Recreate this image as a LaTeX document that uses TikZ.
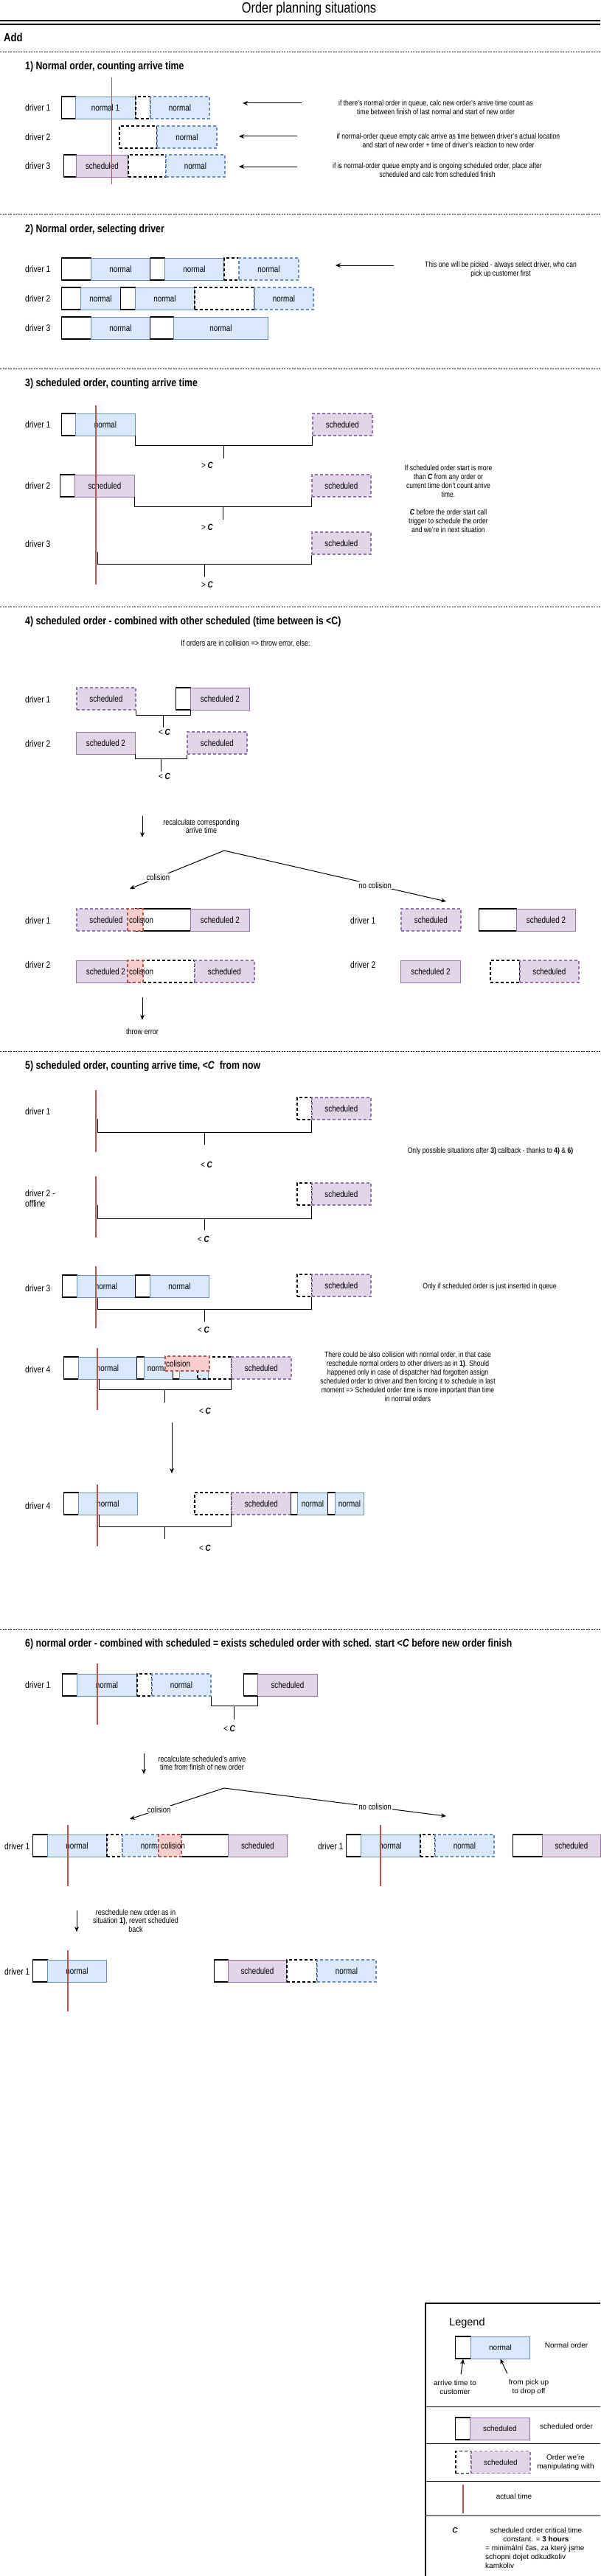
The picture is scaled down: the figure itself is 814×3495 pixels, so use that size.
\documentclass[tikz,border=0pt]{standalone}
\usepackage{fontspec}
\setmainfont{Liberation Sans}[FakeStretch=0.82]
\newfontfamily\legendfont{Liberation Sans}
\usetikzlibrary{arrows.meta}
\usetikzlibrary{positioning}
\definecolor{nfill}{HTML}{DAE8FC}
\definecolor{nline}{HTML}{6C8EBF}
\definecolor{sfill}{HTML}{E1D5E7}
\definecolor{sline}{HTML}{9673A6}
\definecolor{cfill}{HTML}{F8CECC}
\definecolor{cline}{HTML}{B85450}
\definecolor{nowred}{HTML}{B85450}
\tikzset{box/.style = {anchor = west, inner sep = 0, minimum height = 30pt, font = \fontsize{12}{14}\selectfont}}
\tikzset{wbox/.style = {box, draw, fill = white, line width = 1.3pt}}
\tikzset{nbox/.style = {box, draw = nline, fill = nfill, line width = 0.9pt}}
\tikzset{sbox/.style = {box, draw = sline, fill = sfill, line width = 0.9pt}}
\tikzset{gbox/.style = {box, draw, line width = 1.8pt, dash pattern = on 4pt off 3pt}}
\tikzset{nnew/.style = {nbox, line width = 1.8pt, dash pattern = on 4pt off 3pt}}
\tikzset{snew/.style = {sbox, line width = 1.8pt, dash pattern = on 4pt off 3pt}}
\tikzset{cbox/.style = {box, draw = cline, fill = cfill, line width = 1.8pt, dash pattern = on 4pt off 3pt}}
\tikzset{ctext/.style = {anchor = west, inner sep = 0, font = \fontsize{12}{14}\selectfont}}
\tikzset{drv/.style = {anchor = west, align = left, inner sep = 0, font = \fontsize{12.5}{14}\selectfont}}
\tikzset{head/.style = {anchor = west, inner sep = 0, font = \fontsize{15}{18}\selectfont\bfseries}}
\tikzset{note/.style = {align = center, inner sep = 0, font = \fontsize{10.5}{12}\selectfont}}
\tikzset{small/.style = {align = center, inner sep = 0, font = \fontsize{11}{11.7}\selectfont}}
\tikzset{lab/.style = {fill = white, inner sep = 1pt, font = \fontsize{11.5}{13}\selectfont}}
\tikzset{cmark/.style = {inner sep = 0, font = \fontsize{12}{14}\selectfont}}
\tikzset{now/.style = {draw = nowred, line width = 1.2pt}}
\tikzset{brk/.style = {draw, line width = 1pt}}
\tikzset{sep/.style = {draw, line width = 0.8pt, dash pattern = on 2pt off 1.5pt}}
\tikzset{arr/.style = {-{Stealth[length = 7pt, width = 6pt]}, line width = 1pt}}
\tikzset{lg/.style = {align = center, inner sep = 0, font = \legendfont\fontsize{10}{11.7}\selectfont}}
\tikzset{lbox/.style = {font = \legendfont\fontsize{10}{12}\selectfont}}

\begin{document}
\begin{tikzpicture}[x = 1pt, y = -1pt]
    \useasboundingbox (0, 0) rectangle (814, 3495);
    \node [inner sep = 0, font = \fontsize{20}{24}\selectfont] (title) at (419, 12) {Order planning situations};
    \draw [line width = 1.8pt] (0, 28) -- (814, 28);
    \draw [line width = 1.8pt] (0, 33) -- (814, 33);
    \node [head, font = \fontsize{16}{19}\selectfont\bfseries] (add) at (5, 51) {Add};
    \draw [sep] (0, 70) -- (814, 70);

    \node [head] (h1) at (34, 91) {1) Normal order, counting arrive time};
    \node [drv] (d11) at (34, 146) {driver 1};
    \node [drv] (d12) at (34, 186) {driver 2};
    \node [drv] (d13) at (34, 225) {driver 3};
    \node [wbox, minimum width = 19pt] (a1) at (83, 146) {};
    \node [nbox, minimum width = 81pt] (a2) at (102, 146) {normal 1};
    \node [gbox, minimum width = 20pt] (a3) at (183, 146) {};
    \node [nnew, minimum width = 80pt] (a4) at (203, 146) {normal};
    \node [gbox, minimum width = 51pt] (a5) at (161, 186) {};
    \node [nnew, minimum width = 81pt] (a6) at (212, 186) {normal};
    \node [wbox, minimum width = 17pt] (a7) at (86, 225) {};
    \node [sbox, minimum width = 70pt] (a8) at (103, 225) {scheduled};
    \node [gbox, minimum width = 51pt] (a9) at (173, 225) {};
    \node [nnew, minimum width = 80pt] (a10) at (224, 225) {normal};
    \draw [now] (151.5, 105) -- (151.5, 250);
    \node [note] (t11) at (591, 146) {if there's normal order in queue, calc new order's arrive time count as\\time between finish of last normal and start of new order};
    \node [note] (t12) at (608, 191) {if normal-order queue empty calc arrive as time between driver's actual location\\and start of new order + time of driver's reaction to new order};
    \node [note] (t13) at (593, 231) {if is normal-order queue empty and is ongoing scheduled order, place after\\scheduled and calc from scheduled finish};
    \coordinate (s11) at (409, 140);
    \coordinate (e11) at (329, 140);
    \coordinate (s12) at (403, 185);
    \coordinate (e12) at (324, 185);
    \coordinate (s13) at (403, 226);
    \coordinate (e13) at (324, 226);
    \draw [arr] (s11) -- (e11);
    \draw [arr] (s12) -- (e12);
    \draw [arr] (s13) -- (e13);

    \draw [sep] (0, 290) -- (814, 290);
    \node [head] (h2) at (34, 312) {2) Normal order, selecting driver};
    \node [drv] (d21) at (34, 365) {driver 1};
    \node [drv] (d22) at (34, 405) {driver 2};
    \node [drv] (d23) at (34, 445) {driver 3};
    \node [wbox, minimum width = 40pt] (b1) at (83, 365) {};
    \node [nbox, minimum width = 80pt] (b2) at (123, 365) {normal};
    \node [wbox, minimum width = 20pt] (b3) at (203, 365) {};
    \node [nbox, minimum width = 80pt] (b4) at (223, 365) {normal};
    \node [gbox, minimum width = 20pt] (b5) at (303, 365) {};
    \node [nnew, minimum width = 81pt] (b6) at (323, 365) {normal};
    \node [wbox, minimum width = 26pt] (b7) at (83, 405) {};
    \node [nbox, minimum width = 54pt] (b8) at (109, 405) {normal};
    \node [wbox, minimum width = 20pt] (b9) at (163, 405) {};
    \node [nbox, minimum width = 80pt] (b10) at (183, 405) {normal};
    \node [gbox, minimum width = 81pt] (b11) at (263, 405) {};
    \node [nnew, minimum width = 80pt] (b12) at (344, 405) {normal};
    \node [wbox, minimum width = 40pt] (b13) at (83, 445) {};
    \node [nbox, minimum width = 80pt] (b14) at (123, 445) {normal};
    \node [wbox, minimum width = 32pt] (b15) at (203, 445) {};
    \node [nbox, minimum width = 128pt] (b16) at (235, 445) {normal};
    \node [note] (t21) at (679, 366) {This one will be picked - always select driver, who can\\pick up customer first};
    \coordinate (s21) at (534, 360);
    \coordinate (e21) at (455, 360);
    \draw [arr] (s21) -- (e21);

    \draw [sep] (0, 500) -- (814, 500);
    \node [head] (h3) at (34, 521) {3) scheduled order, counting arrive time};
    \node [drv] (d31) at (34, 576) {driver 1};
    \node [drv] (d32) at (34, 659) {driver 2};
    \node [drv] (d33) at (34, 738) {driver 3};
    \node [wbox, minimum width = 19pt] (c1) at (83, 576) {};
    \node [nbox, minimum width = 81pt] (c2) at (102, 576) {normal};
    \node [snew, minimum width = 81pt] (c3) at (423, 576) {scheduled};
    \node [wbox, minimum width = 20pt] (c4) at (81, 659) {};
    \node [sbox, minimum width = 81pt] (c5) at (101, 659) {scheduled};
    \node [snew, minimum width = 80pt] (c6) at (422, 659) {scheduled};
    \node [snew, minimum width = 80pt] (c7) at (422, 737) {scheduled};
    \draw [now] (130, 550) -- (130, 793);
    \draw [brk] (c2.south east) -- ++(0, 13) -| coordinate [pos = 0.25] (m31) (c3.south west);
    \draw [brk] (m31) -- ++(0, 18);
    \node [cmark] (k31) at (281, 631) {> \textbf{\textit{C}}};
    \draw [brk] (c5.south east) -- ++(0, 13) -| coordinate [pos = 0.25] (m32) (c6.south west);
    \draw [brk] (m32) -- ++(0, 18);
    \node [cmark] (k32) at (281, 715) {> \textbf{\textit{C}}};
    \coordinate (r33) at (132, 749);
    \draw [brk] (r33) -- ++(0, 16) -| coordinate [pos = 0.25] (m33) (c7.south west);
    \draw [brk] (m33) -- ++(0, 18);
    \node [cmark] (k33) at (281, 793) {> \textbf{\textit{C}}};
    \node [note] (t31) at (608, 677) {If scheduled order start is more\\than \textbf{\textit{C}} from any order or\\current time don't count arrive\\time.\\[12pt]\textbf{\textit{C}} before the order start call\\trigger to schedule the order\\and we're in next situation};

    \draw [sep] (0, 823) -- (814, 823);
    \node [head] (h4) at (34, 844) {4) scheduled order - combined with other scheduled (time between is <C)};
    \node [small] (t41) at (333, 873) {If orders are in collision => throw error, else:};
    \node [drv] (d41) at (34, 949) {driver 1};
    \node [drv] (d42) at (34, 1009) {driver 2};
    \node [snew, minimum width = 80pt] (e1) at (103, 948) {scheduled};
    \node [wbox, minimum width = 20pt] (e2) at (238, 948) {};
    \node [sbox, minimum width = 80pt] (e3) at (258, 948) {scheduled 2};
    \node [sbox, minimum width = 80pt] (e4) at (103, 1008) {scheduled 2};
    \node [snew, minimum width = 81pt] (e5) at (253, 1008) {scheduled};
    \draw [brk] (e1.south east) -- ++(0, 7) -| coordinate [pos = 0.25] (m41) (e3.south west);
    \draw [brk] (m41) -- ++(0, 16);
    \node [cmark] (k41) at (223, 993) {< \textbf{\textit{C}}};
    \draw [brk] (e4.south east) -- ++(0, 6) -| coordinate [pos = 0.25] (m42) (e5.south west);
    \draw [brk] (m42) -- ++(0, 18);
    \node [cmark] (k42) at (223, 1053) {< \textbf{\textit{C}}};
    \node [small] (t42) at (273, 1121) {recalculate corresponding\\arrive time};
    \coordinate (r4a) at (193, 1107);
    \coordinate (r4b) at (193, 1136);
    \draw [arr] (r4a) -- (r4b);
    \coordinate (sp4) at (304, 1154);
    \coordinate (sl4) at (176, 1206);
    \coordinate (sr4) at (605, 1223);
    \draw [arr] (sp4) -- node [lab, pos = 0.7] (l41) {colision} (sl4);
    \draw [arr] (sp4) -- node [lab, pos = 0.68] (l42) {no colision} (sr4);
    \node [drv] (d43) at (34, 1249) {driver 1};
    \node [drv] (d44) at (34, 1309) {driver 2};
    \node [snew, minimum width = 80pt] (f1) at (103, 1248) {scheduled};
    \node [wbox, minimum width = 75pt] (f2) at (183, 1248) {};
    \node [sbox, minimum width = 80pt] (f3) at (258, 1248) {scheduled 2};
    \node [cbox, minimum width = 21pt] (f4) at (172, 1248) {};
    \node [ctext] (f4t) at (175, 1248) {colision};
    \node [sbox, minimum width = 80pt] (f5) at (103, 1318) {scheduled 2};
    \node [gbox, minimum width = 70pt] (f6) at (193, 1318) {};
    \node [snew, minimum width = 81pt] (f7) at (263, 1318) {scheduled};
    \node [cbox, minimum width = 21pt] (f8) at (172, 1318) {};
    \node [ctext] (f8t) at (175, 1318) {colision};
    \node [small] (err) at (193, 1400) {throw error};
    \coordinate (r4c) at (193, 1353);
    \draw [arr] (r4c) -- ([yshift = 12pt]err.north);
    \node [drv] (d45) at (475, 1249) {driver 1};
    \node [drv] (d46) at (475, 1309) {driver 2};
    \node [snew, minimum width = 81pt] (g1) at (543, 1248) {scheduled};
    \node [wbox, minimum width = 51pt] (g2) at (649, 1248) {};
    \node [sbox, minimum width = 80pt] (g3) at (700, 1248) {scheduled 2};
    \node [sbox, minimum width = 81pt] (g4) at (543, 1318) {scheduled 2};
    \node [gbox, minimum width = 40pt] (g5) at (664, 1318) {};
    \node [snew, minimum width = 80pt] (g6) at (704, 1318) {scheduled};

    \draw [sep] (0, 1426) -- (814, 1426);
    \node [head] (h5) at (34, 1447) {5) scheduled order, counting arrive time, <\textit{C}\ \ from now};
    \node [drv] (d51) at (34, 1508) {driver 1};
    \node [gbox, minimum width = 20pt] (p1) at (402, 1504) {};
    \node [snew, minimum width = 80pt] (p2) at (422, 1504) {scheduled};
    \draw [now] (130, 1479) -- (130, 1563);
    \coordinate (r51) at (132, 1518);
    \draw [brk] (r51) -- ++(0, 18) -| coordinate [pos = 0.25] (m51) (p2.south west);
    \draw [brk] (m51) -- ++(0, 17);
    \node [cmark] (k51) at (280, 1580) {< \textbf{\textit{C}}};
    \node [note] (t51) at (665, 1562) {Only possible situations after \textbf{3)} callback - thanks to \textbf{4)} \& \textbf{6)}};
    \node [drv] (d52) at (34, 1626) {driver 2 -\\offline};
    \node [gbox, minimum width = 20pt] (p3) at (402, 1620) {};
    \node [snew, minimum width = 80pt] (p4) at (422, 1620) {scheduled};
    \draw [now] (130, 1596) -- (130, 1679);
    \coordinate (r52) at (132, 1635);
    \draw [brk] (r52) -- ++(0, 18) -| coordinate [pos = 0.25] (m52) (p4.south west);
    \draw [brk] (m52) -- ++(0, 16);
    \node [cmark] (k52) at (276, 1681) {< \textbf{\textit{C}}};
    \node [drv] (d53) at (34, 1748) {driver 3};
    \node [wbox, minimum width = 20pt] (p5) at (84, 1745) {};
    \node [nbox, minimum width = 79pt] (p6) at (104, 1745) {normal};
    \node [wbox, minimum width = 20pt] (p7) at (183, 1745) {};
    \node [nbox, minimum width = 80pt] (p8) at (203, 1745) {normal};
    \node [gbox, minimum width = 20pt] (p9) at (402, 1744) {};
    \node [snew, minimum width = 80pt] (p10) at (422, 1744) {scheduled};
    \draw [now] (130, 1718) -- (130, 1802);
    \coordinate (r53) at (132, 1761);
    \draw [brk] (r53) -- ++(0, 15) -| coordinate [pos = 0.25] (m53) (p10.south west);
    \draw [brk] (m53) -- ++(0, 17);
    \node [cmark] (k53) at (276, 1804) {< \textbf{\textit{C}}};
    \node [note] (t52) at (664, 1746) {Only if scheduled order is just inserted in queue};
    \node [drv] (d54) at (34, 1858) {driver 4};
    \node [wbox, minimum width = 20pt] (p11) at (86, 1856) {};
    \node [nbox, minimum width = 79pt] (p12) at (106, 1856) {normal};
    \node [wbox, minimum width = 10pt] (p13) at (185, 1856) {};
    \node [nbox, minimum width = 39pt] (p14) at (195, 1856) {normal};
    \node [wbox, minimum width = 9pt] (p15) at (234, 1856) {};
    \node [nbox, minimum width = 39pt] (p16) at (243, 1856) {};
    \node [gbox, minimum width = 46pt] (p17) at (267, 1856) {};
    \node [snew, minimum width = 81pt] (p18) at (313, 1856) {scheduled};
    \node [cbox, minimum width = 60pt, minimum height = 20pt] (p19) at (223, 1850) {};
    \node [ctext] (p19t) at (225, 1850) {colision};
    \draw [now] (132, 1829) -- (132, 1913);
    \coordinate (r54) at (134, 1871);
    \draw [brk] (r54) -- ++(0, 14) -| coordinate [pos = 0.25] (m54) (p18.south west);
    \draw [brk] (m54) -- ++(0, 18);
    \node [cmark] (k54) at (278, 1914) {< \textbf{\textit{C}}};
    \node [note] (t53) at (553, 1868) {There could be also collision with normal order, in that case\\reschedule normal orders to other drivers as in \textbf{1)}. Should\\happened only in case of dispatcher had forgotten assign\\scheduled order to driver and then forcing it to schedule in last\\moment => Scheduled order time is more important than time\\in normal orders};
    \coordinate (r5a) at (233, 1930);
    \coordinate (r5b) at (233, 1999);
    \draw [arr] (r5a) -- (r5b);
    \node [drv] (d55) at (34, 2043) {driver 4};
    \node [wbox, minimum width = 20pt] (q1) at (86, 2040) {};
    \node [nbox, minimum width = 80pt] (q2) at (106, 2040) {normal};
    \node [gbox, minimum width = 50pt] (q3) at (263, 2040) {};
    \node [snew, minimum width = 81pt] (q4) at (313, 2040) {scheduled};
    \node [wbox, minimum width = 9pt] (q5) at (394, 2040) {};
    \node [nbox, minimum width = 41pt] (q6) at (403, 2040) {normal};
    \node [wbox, minimum width = 10pt] (q7) at (444, 2040) {};
    \node [nbox, minimum width = 39pt] (q8) at (454, 2040) {normal};
    \draw [now] (132, 2014) -- (132, 2098);
    \coordinate (r55) at (134, 2055);
    \draw [brk] (r55) -- ++(0, 16) -| coordinate [pos = 0.25] (m55) (q4.south west);
    \draw [brk] (m55) -- ++(0, 17);
    \node [cmark] (k55) at (278, 2100) {< \textbf{\textit{C}}};

    \draw [sep] (0, 2210) -- (814, 2210);
    \node [head] (h6) at (34, 2231) {6) normal order - combined with scheduled = exists scheduled order with sched. start <\textit{C} before new order finish};
    \node [drv] (d61) at (34, 2286) {driver 1};
    \node [wbox, minimum width = 20pt] (u1) at (84, 2286) {};
    \node [nbox, minimum width = 81pt] (u2) at (104, 2286) {normal};
    \node [gbox, minimum width = 20pt] (u3) at (185, 2286) {};
    \node [nnew, minimum width = 80pt] (u4) at (205, 2286) {normal};
    \node [wbox, minimum width = 19pt] (u5) at (330, 2286) {};
    \node [sbox, minimum width = 81pt] (u6) at (349, 2286) {scheduled};
    \draw [now] (132, 2257) -- (132, 2340);
    \draw [brk] (u4.south east) -- ++(0, 13) -| coordinate [pos = 0.25] (m61) (u6.south west);
    \draw [brk] (m61) -- ++(0, 18);
    \node [cmark] (k61) at (311, 2345) {< \textbf{\textit{C}}};
    \node [small] (t61) at (274, 2392) {recalculate scheduled's arrive\\time from finish of new order};
    \coordinate (r6a) at (195, 2379);
    \coordinate (r6b) at (195, 2407);
    \draw [arr] (r6a) -- (r6b);
    \coordinate (sp6) at (304, 2426);
    \coordinate (sl6) at (176, 2468);
    \coordinate (sr6) at (605, 2464);
    \draw [arr] (sp6) -- node [lab, pos = 0.69] (l61) {colision} (sl6);
    \draw [arr] (sp6) -- node [lab, pos = 0.68] (l62) {no colision} (sr6);
    \node [drv] (d62) at (6, 2505) {driver 1};
    \node [wbox, minimum width = 20pt] (v1) at (44, 2504) {};
    \node [nbox, minimum width = 80pt] (v2) at (64, 2504) {normal};
    \node [gbox, minimum width = 21pt] (v3) at (144, 2504) {};
    \node [nnew, minimum width = 80pt] (v4) at (165, 2504) {normal};
    \node [wbox, minimum width = 64pt] (v5) at (245, 2504) {};
    \node [sbox, minimum width = 80pt] (v6) at (309, 2504) {scheduled};
    \node [cbox, minimum width = 31pt] (v7) at (214, 2504) {};
    \node [ctext] (v7t) at (218, 2504) {colision};
    \draw [now] (92, 2476) -- (92, 2559);
    \node [drv] (d63) at (431, 2505) {driver 1};
    \node [wbox, minimum width = 20pt] (v8) at (469, 2504) {};
    \node [nbox, minimum width = 80pt] (v9) at (489, 2504) {normal};
    \node [gbox, minimum width = 20pt] (v10) at (569, 2504) {};
    \node [nnew, minimum width = 80pt] (v11) at (589, 2504) {normal};
    \node [wbox, minimum width = 40pt] (v12) at (695, 2504) {};
    \node [sbox, minimum width = 79pt] (v13) at (735, 2504) {scheduled};
    \draw [now] (516, 2476) -- (516, 2559);
    \node [small] (t62) at (184, 2606) {reschedule new order as in\\situation \textbf{1)}, revert scheduled\\back};
    \coordinate (r6c) at (104, 2592);
    \coordinate (r6d) at (104, 2621);
    \draw [arr] (r6c) -- (r6d);
    \node [drv] (d64) at (6, 2675) {driver 1};
    \node [wbox, minimum width = 20pt] (w1) at (44, 2674) {};
    \node [nbox, minimum width = 80pt] (w2) at (64, 2674) {normal};
    \node [wbox, minimum width = 19pt] (w3) at (290, 2674) {};
    \node [sbox, minimum width = 79pt] (w4) at (309, 2674) {scheduled};
    \node [gbox, minimum width = 41pt] (w5) at (388, 2674) {};
    \node [nnew, minimum width = 80pt] (w6) at (429, 2674) {normal};
    \draw [now] (92, 2646) -- (92, 2729);

    \draw [line width = 1.6pt] (814, 3125) -- (577, 3125) -- (577, 3495);
    \node [lg, anchor = west, font = \legendfont\fontsize{14.5}{17}\selectfont] (lgt) at (609, 3152) {Legend};
    \node [wbox, minimum width = 21pt] (x1) at (617, 3185) {};
    \node [nbox, lbox, minimum width = 80pt] (x2) at (638, 3185) {normal};
    \node [lg] (x3) at (768, 3182) {Normal order};
    \node [lg] (x4) at (617, 3239) {arrive time to\\customer};
    \node [lg] (x5) at (717, 3239) {from pick up\\to drop off};
    \draw [arr] (x4.north) ++(8, -8) -- (x1.south);
    \draw [arr] (x5.north) ++(-29, -8) -- (x2.south);
    \draw [line width = 1pt] (577, 3265) -- (814, 3265);
    \node [wbox, minimum width = 20pt] (x6) at (617, 3295) {};
    \node [sbox, lbox, minimum width = 81pt] (x7) at (637, 3295) {scheduled};
    \node [lg] (x8) at (768, 3292) {scheduled order};
    \draw [line width = 1pt] (577, 3315) -- (814, 3315);
    \node [gbox, minimum width = 21pt] (x9) at (617, 3340.5) {};
    \node [snew, lbox, minimum width = 80pt] (x10) at (638, 3340.5) {scheduled};
    \node [lg] (x11) at (767, 3341) {Order we're\\manipulating with};
    \draw [line width = 1pt] (577, 3366) -- (814, 3366);
    \draw [now] (628, 3371) -- (628, 3410);
    \node [lg] (x12) at (697, 3387) {actual time};
    \draw [gray, line width = 1.5pt] (577, 3413) -- (814, 3413);
    \node [lg] (x13) at (617, 3433) {\textbf{\textit{C}}};
    \node [lg] (x14) at (727, 3439) {scheduled order critical time\\constant. = \textbf{3 hours}};
    \node [lg, anchor = west, align = left] (x15) at (658, 3469) {= minimální čas, za který jsme\\schopni dojet odkudkoliv\\kamkoliv};
\end{tikzpicture}
\end{document}
